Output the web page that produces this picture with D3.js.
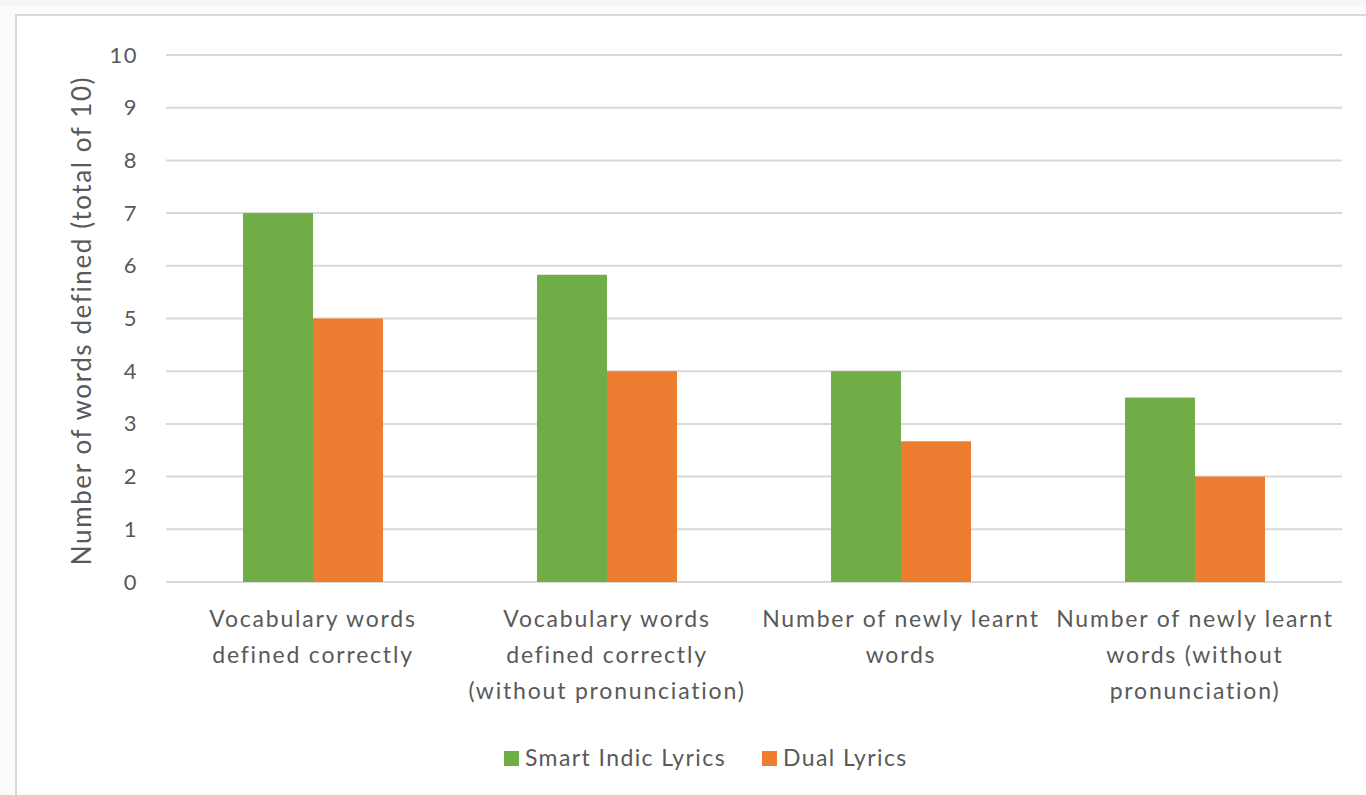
<!DOCTYPE html>
<html>
<head>
<meta charset="utf-8">
<script src="https://cdn.jsdelivr.net/npm/d3@7"></script>
<style>
  html, body { margin: 0; padding: 0; background: #f6f6f6; overflow: hidden; }
  svg { display: block; }
</style>
</head>
<body>
<div id="chart"></div>
<script>
const categories = [
  ['Vocabulary words', 'defined correctly'],
  ['Vocabulary words', 'defined correctly', '(without pronunciation)'],
  ['Number of newly learnt', 'words'],
  ['Number of newly learnt', 'words (without', 'pronunciation)']
];
const seriesNames = ['Smart Indic Lyrics', 'Dual Lyrics'];
const smartIndic = [7, 5.83, 4, 3.5];
const dualLyrics = [5, 4, 2.67, 2];
const yTicks = [0, 1, 2, 3, 4, 5, 6, 7, 8, 9, 10];

const width = 1366;
const height = 795;
const margin = { top: 55, right: 24, bottom: 213, left: 166 };
const colors = ['#70ad47', '#ed7d31'];
const textColor = '#595959';
const font = 'Lato, "Open Sans", sans-serif';

const svg = d3.select('#chart')
  .append('svg')
  .attr('width', width)
  .attr('height', height);

// top strip + white card
svg.append('rect')
  .attr('x', 0).attr('y', 6)
  .attr('width', width).attr('height', height)
  .attr('fill', '#fbfbfb');
svg.append('rect')
  .attr('x', 16).attr('y', 15)
  .attr('width', width).attr('height', height)
  .attr('fill', '#ffffff')
  .attr('stroke', '#d9d9d9')
  .attr('stroke-width', 2);

const x0 = d3.scaleBand()
  .domain(d3.range(categories.length))
  .range([margin.left, width - margin.right]);

const x1 = d3.scaleBand()
  .domain(seriesNames)
  .range([0, x0.bandwidth()])
  .paddingOuter(1.1);

const y = d3.scaleLinear()
  .domain([0, 10])
  .range([height - margin.bottom, margin.top]);

// gridlines
svg.append('g')
  .selectAll('line')
  .data(yTicks)
  .join('line')
  .attr('x1', margin.left)
  .attr('x2', width - margin.right)
  .attr('y1', d => y(d))
  .attr('y2', d => y(d))
  .attr('stroke', '#d9d9d9')
  .attr('stroke-width', 2);

// y axis labels
function yAxis(g) {
  g.attr('transform', 'translate(' + (margin.left - 28) + ',0)')
    .call(d3.axisLeft(y).tickValues(yTicks).tickSize(0).tickPadding(0))
    .call(g => g.select('.domain').remove())
    .selectAll('text')
    .attr('fill', textColor)
    .style('font-family', font)
    .style('font-size', '22px')
    .style('letter-spacing', '1.5px');
}
svg.append('g').call(yAxis);

// bars
const rows = categories.map((c, i) => ({ i, values: [smartIndic[i], dualLyrics[i]] }));
svg.append('g')
  .selectAll('g')
  .data(rows)
  .join('g')
  .attr('transform', d => 'translate(' + x0(d.i) + ',0)')
  .selectAll('rect')
  .data(d => d.values.map((v, k) => ({ name: seriesNames[k], value: v, k })))
  .join('rect')
  .attr('x', d => x1(d.name))
  .attr('y', d => y(d.value))
  .attr('width', x1.bandwidth())
  .attr('height', d => y(0) - y(d.value))
  .attr('fill', d => colors[d.k]);

// category labels
const catG = svg.append('g')
  .selectAll('text')
  .data(rows)
  .join('text')
  .attr('text-anchor', 'middle')
  .attr('fill', textColor)
  .style('font-family', font)
  .style('font-size', '23px')
  .style('letter-spacing', '1.8px')
  .attr('x', d => x0(d.i) + x0.bandwidth() / 2)
  .attr('y', y(0) + 45);
catG.selectAll('tspan')
  .data(d => categories[d.i])
  .join('tspan')
  .attr('x', function() { return d3.select(this.parentNode).attr('x'); })
  .attr('dy', (d, j) => j === 0 ? 0 : 36)
  .text(d => d);

// y axis title
svg.append('text')
  .attr('transform', 'translate(91,' + (y(5) + 2) + ') rotate(-90)')
  .attr('text-anchor', 'middle')
  .attr('fill', textColor)
  .style('font-family', font)
  .style('font-size', '26px')
  .style('letter-spacing', '1.6px')
  .text('Number of words defined (total of 10)');

// legend
const legend = svg.append('g').attr('transform', 'translate(504,751)');
const legendX = [0, 258];
seriesNames.forEach((name, k) => {
  const item = legend.append('g').attr('transform', 'translate(' + legendX[k] + ',0)');
  item.append('rect')
    .attr('width', 15).attr('height', 15)
    .attr('fill', colors[k]);
  item.append('text')
    .attr('x', 21).attr('y', 15)
    .attr('fill', textColor)
    .style('font-family', font)
    .style('font-size', '23px')
    .style('letter-spacing', '1.4px')
    .text(name);
});
</script>
</body>
</html>
